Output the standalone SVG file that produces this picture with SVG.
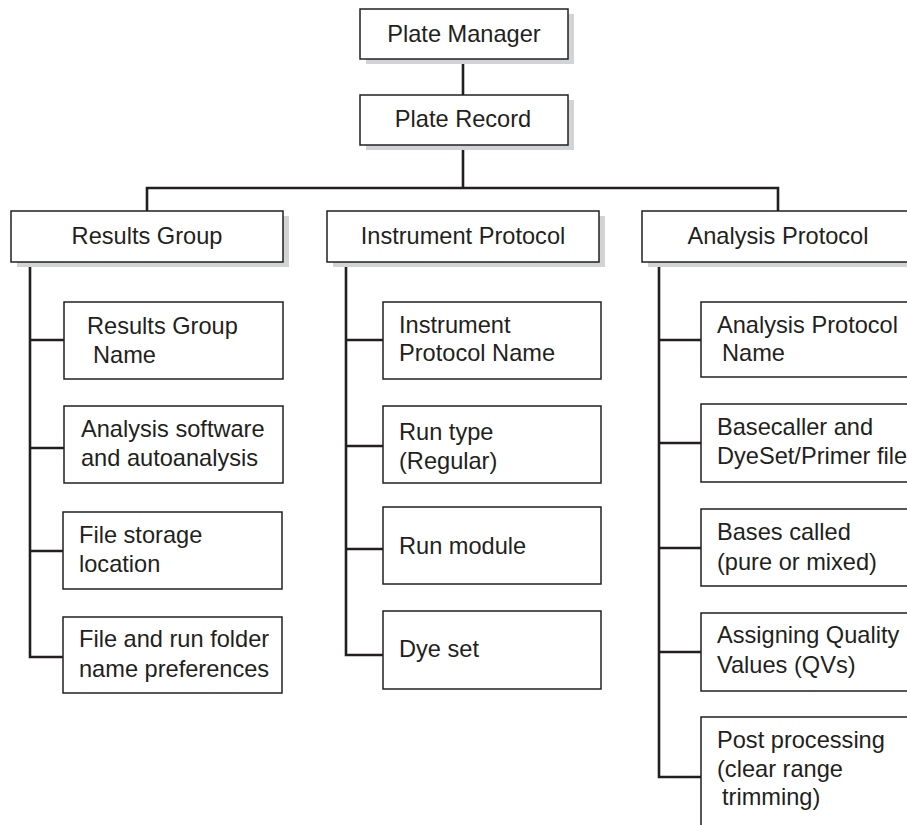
<svg xmlns="http://www.w3.org/2000/svg" width="907" height="825" viewBox="0 0 907 825">
<style>
.box{fill:#fff;stroke:#231f20;stroke-width:1.5}
.sh{fill:#d1d3d4}
.t{font-family:"Liberation Sans",Arial,sans-serif;font-size:23.6px;fill:#231f20}
.c{text-anchor:middle}
.ln{fill:none;stroke:#231f20;stroke-width:2.6;stroke-linejoin:miter;stroke-linecap:square}
</style>
<rect width="907" height="825" fill="#fff"/>
<g id="connectors">
<path class="ln" d="M463,59V95M463,145V188M147,211V188H778V211"/>
<path class="ln" d="M30,262V657H64M30,340H64M30,448H64M30,551H64"/>
<path class="ln" d="M346,262V655H383M346,340H383M346,446H383M346,549H383"/>
<path class="ln" d="M659,262V777H701M659,340H701M659,443H701M659,548H701M659,652H701"/>
</g>
<g id="plate-manager"><rect class="sh" x="366" y="14" width="208" height="50"/><rect class="box" x="360" y="9" width="208" height="50"/><text class="t c" x="464" y="42">Plate Manager</text></g>
<g id="plate-record"><rect class="sh" x="366" y="100" width="208" height="50"/><rect class="box" x="360" y="95" width="208" height="50"/><text class="t c" x="463" y="127">Plate Record</text></g>
<g id="results-group"><rect class="sh" x="17" y="216" width="272" height="51"/><rect class="box" x="11" y="211" width="272" height="51"/><text class="t c" x="147" y="244">Results Group</text></g>
<g id="instrument-protocol"><rect class="sh" x="333" y="216" width="272" height="51"/><rect class="box" x="327" y="211" width="272" height="51"/><text class="t c" x="463" y="244">Instrument Protocol</text></g>
<g id="analysis-protocol"><rect class="sh" x="648" y="216" width="272" height="51"/><rect class="box" x="642" y="211" width="272" height="51"/><text class="t c" x="778" y="244">Analysis Protocol</text></g>
<g id="rg-name"><rect class="box" x="64" y="302" width="219" height="77"/><text class="t" x="87" y="334">Results Group</text><text class="t" x="93" y="363">Name</text></g>
<g id="rg-software"><rect class="box" x="64" y="406" width="219" height="77"/><text class="t" x="81" y="437">Analysis software</text><text class="t" x="81" y="466">and autoanalysis</text></g>
<g id="rg-storage"><rect class="box" x="63" y="512" width="219" height="77"/><text class="t" x="79" y="543">File storage</text><text class="t" x="79" y="572">location</text></g>
<g id="rg-folder"><rect class="box" x="63" y="617" width="219" height="76"/><text class="t" x="79" y="647">File and run folder</text><text class="t" x="79" y="677">name preferences</text></g>
<g id="ip-name"><rect class="box" x="383" y="302" width="218" height="77"/><text class="t" x="399" y="333">Instrument</text><text class="t" x="399" y="361">Protocol Name</text></g>
<g id="ip-runtype"><rect class="box" x="383" y="406" width="218" height="77"/><text class="t" x="399" y="440">Run type</text><text class="t" x="399" y="469">(Regular)</text></g>
<g id="ip-runmodule"><rect class="box" x="383" y="507" width="218" height="77"/><text class="t" x="399" y="554">Run module</text></g>
<g id="ip-dyeset"><rect class="box" x="383" y="611" width="218" height="78"/><text class="t" x="399" y="657">Dye set</text></g>
<g id="ap-name"><rect class="box" x="701" y="302" width="230" height="75"/><text class="t" x="717" y="333">Analysis Protocol</text><text class="t" x="722" y="361">Name</text></g>
<g id="ap-basecaller"><rect class="box" x="701" y="404" width="230" height="78"/><text class="t" x="717" y="435">Basecaller and</text><text class="t" x="717" y="464">DyeSet/Primer file</text></g>
<g id="ap-bases"><rect class="box" x="701" y="509" width="230" height="77"/><text class="t" x="717" y="540">Bases called</text><text class="t" x="717" y="570">(pure or mixed)</text></g>
<g id="ap-qv"><rect class="box" x="701" y="613" width="230" height="78"/><text class="t" x="717" y="643">Assigning Quality</text><text class="t" x="717" y="673">Values (QVs)</text></g>
<g id="ap-post"><rect class="box" x="701" y="717" width="230" height="130"/><text class="t" x="717" y="748">Post processing</text><text class="t" x="717" y="777">(clear range</text><text class="t" x="722" y="805">trimming)</text></g>
</svg>
